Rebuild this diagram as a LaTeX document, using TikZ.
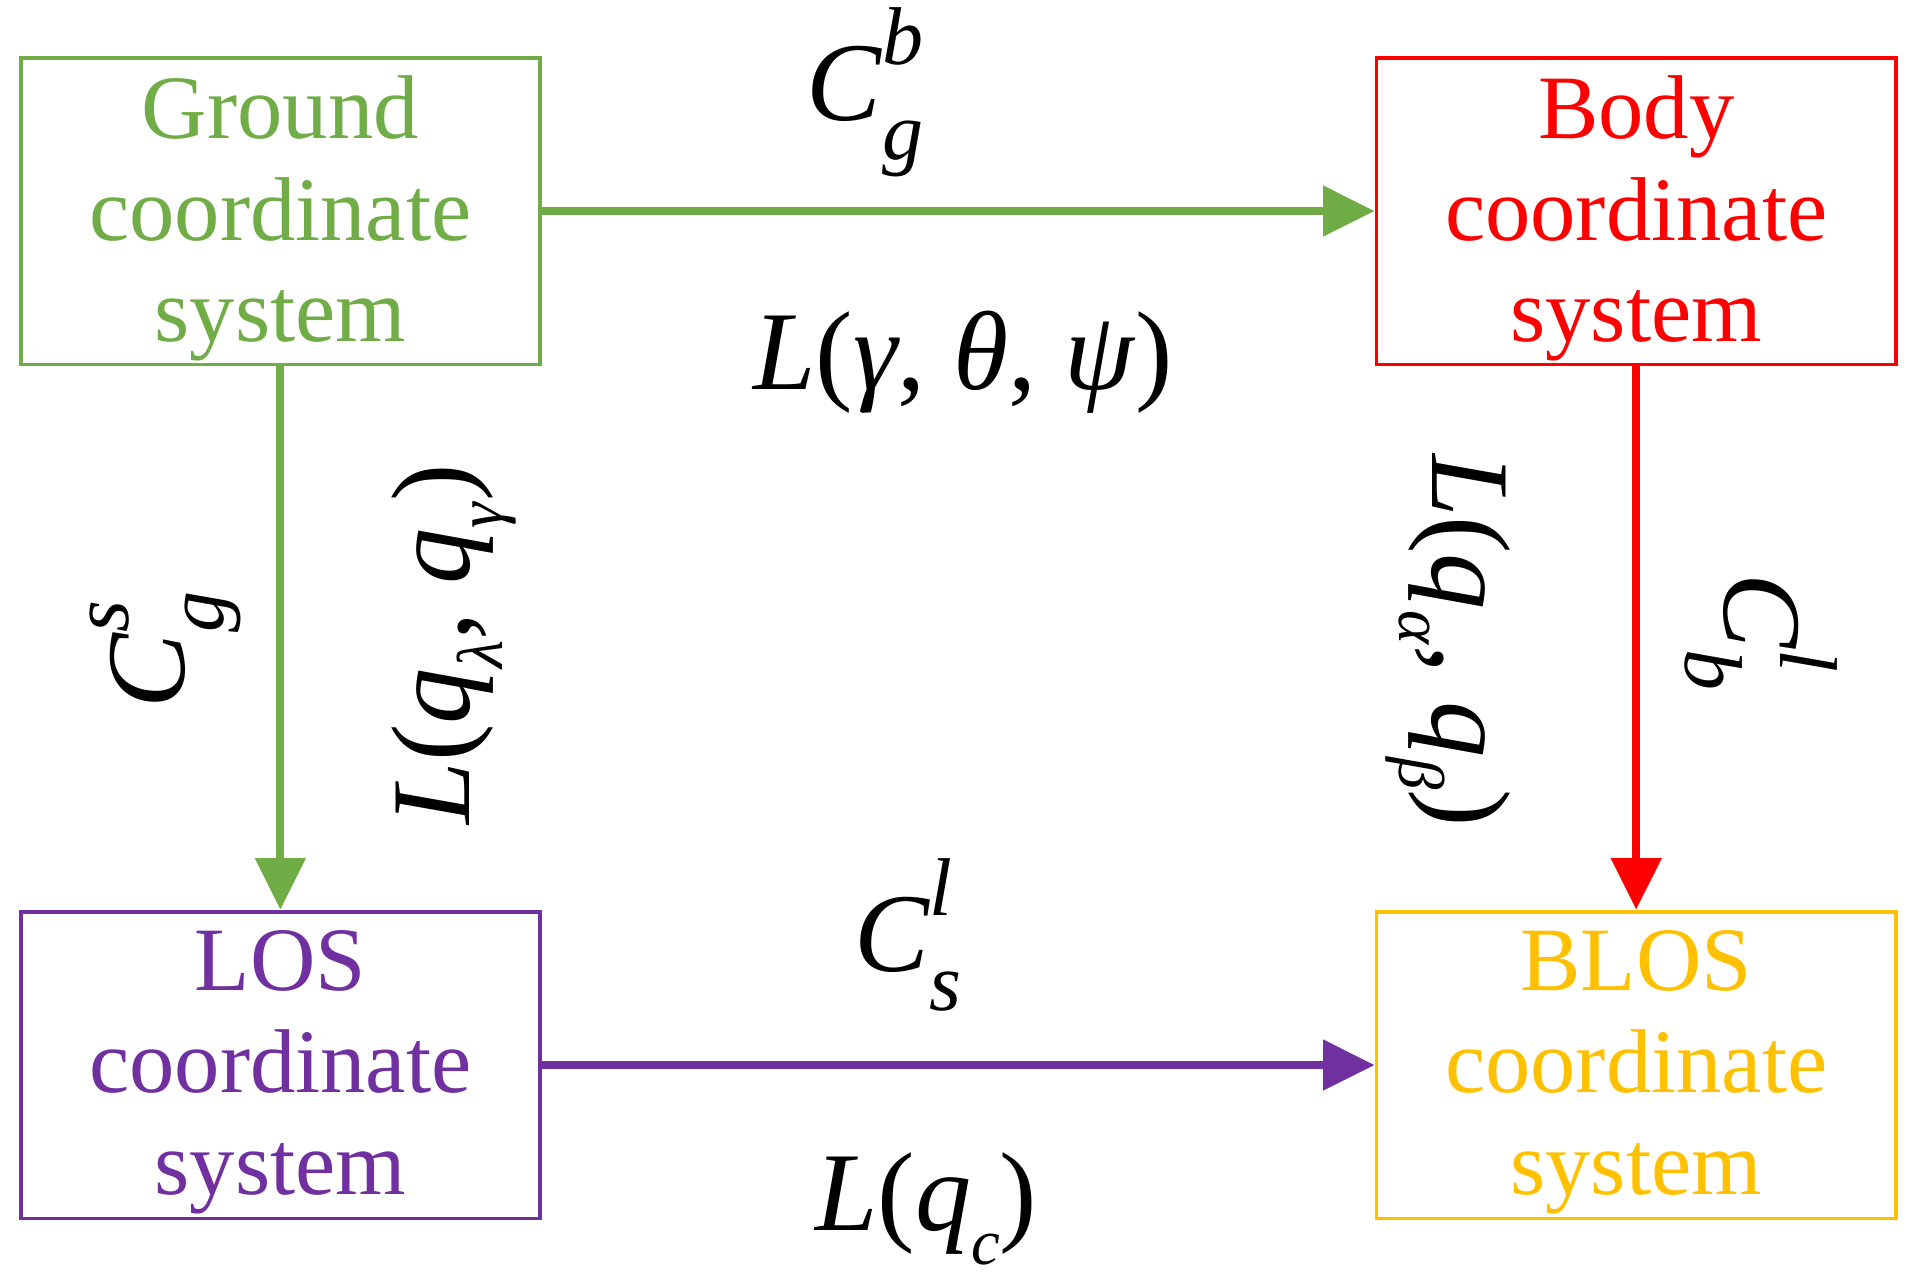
\documentclass[tikz,border=0pt]{standalone}
\usepackage{fontspec}
\setmainfont{Liberation Serif}
\usetikzlibrary{arrows.meta}
\definecolor{cg}{RGB}{112,173,71}
\definecolor{cr}{RGB}{255,0,0}
\definecolor{cp}{RGB}{112,48,160}
\definecolor{cy}{RGB}{255,192,0}
\newcommand{\cmat}[3]{\textit{#1}\makebox[0pt][l]{\raisebox{0.5em}{\fontsize{19}{19}\selectfont\textit{#3}}}\raisebox{-0.35em}{\fontsize{19}{19}\selectfont\textit{#2}}}
\newcommand{\qq}[1]{\textit{q}\raisebox{-0.3em}{\fontsize{15}{15}\selectfont\textit{#1}}}
\begin{document}
\begin{tikzpicture}[x=0.01cm,y=-0.01cm,
  box/.style={draw=#1,line width=0.9pt,minimum width=4.23cm,minimum height=2.5cm,inner sep=0pt},
  btxt/.style={text=#1,align=center,inner sep=0pt,font=\fontsize{21}{23.6}\selectfont},
  arr/.style={draw=#1,line width=0.065cm,-{Triangle[length=0.42cm,width=0.4cm]}},
  lab/.style={font=\fontsize{26}{28}\selectfont,inner sep=0pt}]
\useasboundingbox (0,0) rectangle (1564,1042);
\node[box=cg] (g) at (228.5,172) {};
\node[box=cr] (b) at (1333.5,172) {};
\node[box=cp] (l) at (228.5,868) {};
\node[box=cy] (bl) at (1333.5,868) {};
\node[btxt=cg] (gt) at (228.5,178) {Ground\\coordinate\\system};
\node[btxt=cr] (bt) at (1333.5,178) {Body\\coordinate\\system};
\node[btxt=cp] (lt) at (228.5,874) {LOS\\coordinate\\system};
\node[btxt=cy] (blt) at (1333.5,874) {BLOS\\coordinate\\system};
\draw[arr=cg] (g.east) -- (b.west);
\draw[arr=cp] (l.east) -- (bl.west);
\draw[arr=cg] (g.south) -- (l.north);
\draw[arr=cr] (b.south) -- (bl.north);
\node[lab] (t1) at (705,75) {\cmat{C}{g}{b}};
\node[lab] (t2) at (785,295) {\textit{L}(\textit{γ}, \textit{θ}, \textit{ψ})};
\node[lab] (t3) at (740,762) {\cmat{C}{s}{l}};
\node[lab] (t4) at (755,985) {\textit{L}(\qq{c})};
\node[lab,rotate=90] (t5) at (135,530) {\cmat{C}{g}{s}};
\node[lab,rotate=90] (t6) at (370,525) {\textit{L}(\qq{λ}, \qq{γ})};
\node[lab,rotate=-90] (t7) at (1180,522) {\textit{L}(\qq{α}, \qq{β})};
\node[lab,rotate=-90] (t8) at (1435,515) {\cmat{C}{b}{l}};
\end{tikzpicture}
\end{document}
